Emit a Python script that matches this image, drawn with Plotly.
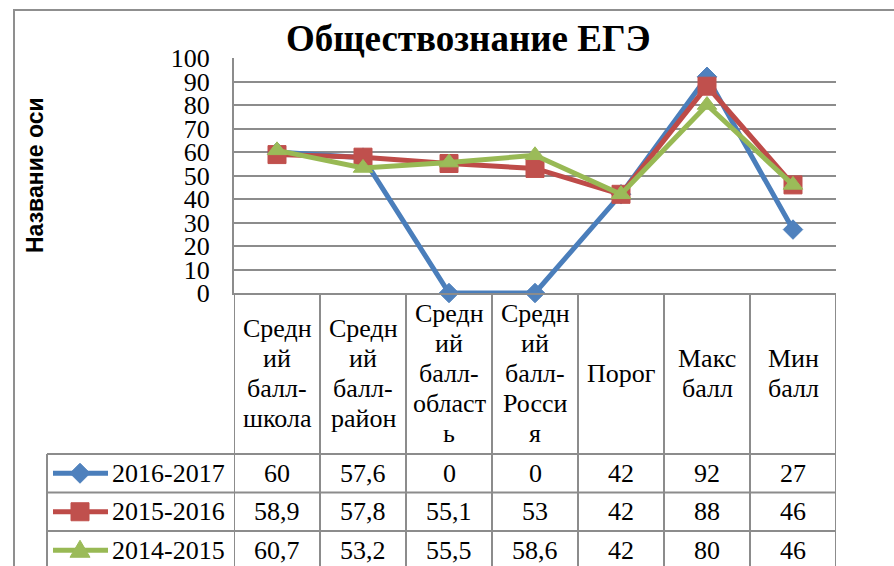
import plotly.graph_objects as go

# --- data ---------------------------------------------------------------
category_lines = [
    ["Средн", "ий", "балл-", "школа"],
    ["Средн", "ий", "балл-", "район"],
    ["Средн", "ий", "балл-", "област", "ь"],
    ["Средн", "ий", "балл-", "Росси", "я"],
    ["Порог"],
    ["Макс", "балл"],
    ["Мин", "балл"],
]
series_names = ["2016-2017", "2015-2016", "2014-2015"]
values_2016_2017 = [60, 57.6, 0, 0, 42, 92, 27]
values_2015_2016 = [58.9, 57.8, 55.1, 53, 42, 88, 46]
values_2014_2015 = [60.7, 53.2, 55.5, 58.6, 42, 80, 46]
y_tick_values = list(range(0, 101, 10))

title_text = "Обществознание ЕГЭ"
axis_title = "Название оси"

# --- layout constants (pixels of the 894x566 page) ---------------------
W, H = 894, 566
PLOT_L, PLOT_R, PLOT_T, PLOT_B = 234, 836, 58, 293
TABLE_L = 47
ROW_TOPS = [454, 492.5, 531, 569.5]
LINE_GAP = 30
GRID = "#8c8c8c"
SERIF = "'Liberation Serif', 'Times New Roman', Tinos, serif"
SANS = "'Liberation Sans', Arial, sans-serif"

styles = [
    dict(line="#4A7EBB", fill="#4F81BD", symbol="diamond", size=15,
         key="M -10 0 L 0 10 L 10 0 L 0 -10 Z"),
    dict(line="#BE4B48", fill="#C0504D", symbol="square", size=18,
         key="M -9 -9 L 9 -9 L 9 9 L -9 9 Z"),
    dict(line="#98B954", fill="#9BBB59", symbol="triangle-up", size=17,
         key="M -10 -7 L 10 -7 L 0 10 Z"),
]


def px_x(px):
    return px / W


def px_y(py):
    return 1 - py / H


def fmt(v):
    return f"{v:g}".replace(".", ",")


all_values = [values_2016_2017, values_2015_2016, values_2014_2015]
x_idx = list(range(len(category_lines)))

fig = go.Figure()

for name, vals, st in zip(series_names, all_values, styles):
    fig.add_trace(go.Scatter(
        x=x_idx,
        y=vals,
        mode="lines+markers",
        name=name,
        line=dict(color=st["line"], width=5),
        marker=dict(symbol=st["symbol"], size=st["size"], color=st["fill"],
                    line=dict(color=st["fill"], width=1)),
        showlegend=False,
        cliponaxis=False,
        hoverinfo="skip",
    ))

shapes = []
annotations = []

# outer chart border
shapes.append(dict(type="rect", xref="paper", yref="paper",
                   x0=px_x(14), x1=1.05, y0=-0.05, y1=px_y(10),
                   line=dict(color="#8f8f8f", width=2)))

# table: vertical lines of the category columns
for i in range(len(category_lines) + 1):
    shapes.append(dict(type="line", xref="x", yref="paper",
                       x0=i - 0.5, x1=i - 0.5, y0=px_y(PLOT_B), y1=-0.05,
                       line=dict(color=GRID, width=2)))
# legend column left edge
shapes.append(dict(type="line", xref="paper", yref="paper",
                   x0=px_x(TABLE_L), x1=px_x(TABLE_L),
                   y0=px_y(ROW_TOPS[0]), y1=-0.05,
                   line=dict(color=GRID, width=2)))
# row lines
for top in ROW_TOPS[:3]:
    shapes.append(dict(type="line", xref="paper", yref="paper",
                       x0=px_x(TABLE_L), x1=px_x(PLOT_R),
                       y0=px_y(top), y1=px_y(top),
                       line=dict(color=GRID, width=2)))

# header cells
header_mid = (PLOT_B + ROW_TOPS[0]) / 2
for i, lines in enumerate(category_lines):
    first = header_mid - LINE_GAP * (len(lines) - 1) / 2
    for k, txt in enumerate(lines):
        annotations.append(dict(
            x=i, xref="x", y=px_y(first + k * LINE_GAP), yref="paper",
            text=txt, showarrow=False, xanchor="center", yanchor="middle",
            font=dict(family=SERIF, size=26, color="black")))

# data rows
for r, (name, vals, st) in enumerate(zip(series_names, all_values, styles)):
    mid = (ROW_TOPS[r] + ROW_TOPS[r + 1]) / 2
    shapes.append(dict(type="line", xref="paper", yref="paper",
                       x0=px_x(53), x1=px_x(108), y0=px_y(mid), y1=px_y(mid),
                       line=dict(color=st["line"], width=5)))
    shapes.append(dict(type="path", xref="paper", yref="paper",
                       xsizemode="pixel", ysizemode="pixel",
                       xanchor=px_x(80), yanchor=px_y(mid), path=st["key"],
                       fillcolor=st["fill"], line=dict(color=st["fill"], width=1)))
    annotations.append(dict(
        x=px_x(110), xref="paper", y=px_y(mid), yref="paper", text=name,
        showarrow=False, xanchor="left", yanchor="middle",
        font=dict(family=SERIF, size=26, color="black")))
    for i, v in enumerate(vals):
        annotations.append(dict(
            x=i, xref="x", y=px_y(mid), yref="paper", text=fmt(v),
            showarrow=False, xanchor="center", yanchor="middle",
            font=dict(family=SERIF, size=26, color="black")))

# chart title and axis title
annotations.append(dict(
    x=px_x(468), y=px_y(38), xref="paper", yref="paper", text=title_text,
    showarrow=False, xanchor="center", yanchor="middle",
    font=dict(family=SERIF, size=37, color="black", weight="bold")))
annotations.append(dict(
    x=px_x(35), y=px_y(175), xref="paper", yref="paper", text=axis_title,
    showarrow=False, textangle=-90, xanchor="center", yanchor="middle",
    font=dict(family=SANS, size=23, color="black", weight="bold")))

fig.update_layout(
    width=W,
    height=H,
    margin=dict(l=0, r=0, t=0, b=0, autoexpand=False),
    paper_bgcolor="white",
    plot_bgcolor="white",
    showlegend=False,
    xaxis=dict(
        domain=[px_x(PLOT_L), px_x(PLOT_R)],
        range=[-0.5, len(category_lines) - 0.5],
        showticklabels=False, showgrid=False, zeroline=False,
        showline=True, linecolor=GRID, linewidth=2, automargin=False,
    ),
    yaxis=dict(
        domain=[px_y(PLOT_B), px_y(PLOT_T)],
        range=[0, 100],
        tickvals=y_tick_values,
        showgrid=True, gridcolor=GRID, gridwidth=1.5,
        zeroline=False,
        showline=True, linecolor=GRID, linewidth=2, automargin=False,
        ticks="", ticklabelstandoff=17,
        tickfont=dict(family=SERIF, size=26, color="black"),
    ),
    shapes=shapes,
    annotations=annotations,
)

# the page's default body margin would shift the chart by 8px
fig.write_html(
    "out.html",
    config={"displayModeBar": False},
    post_script="document.body.style.margin='0';document.body.style.overflow='hidden';",
)
